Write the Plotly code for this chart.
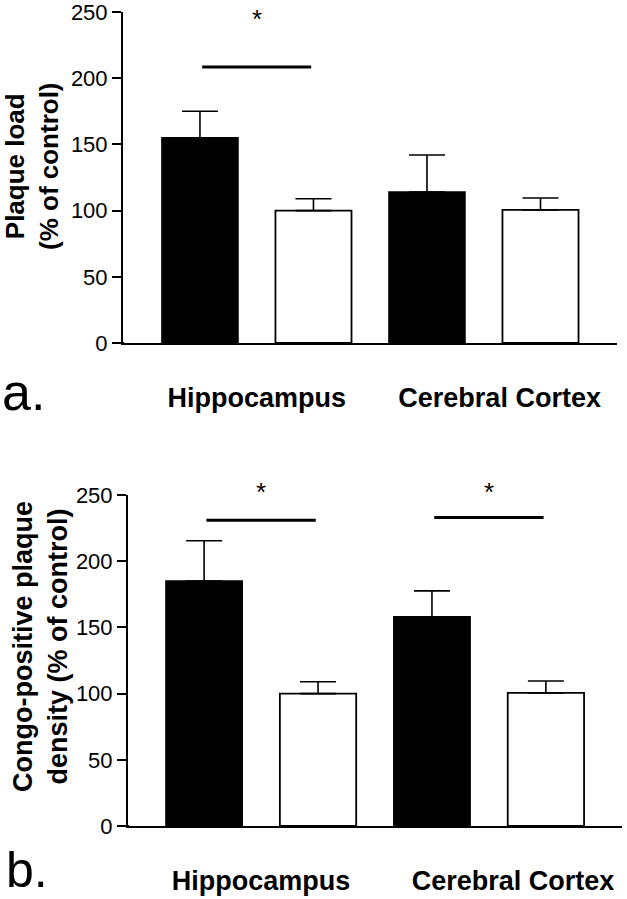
import plotly.graph_objects as go

# ---------------- data ----------------
categories = ["Hippocampus", "Cerebral Cortex"]

# panel a: plaque load (% of control)
load_treated = [155, 114]
load_treated_err = [20, 28]
load_control = [100, 100.5]
load_control_err = [9, 9]
load_sig_y = [208.5]          # significance bar heights (Hippocampus only)
load_star_y = [245]
load_sig_cat = [0]

# panel b: Congo-positive plaque density (% of control)
congo_treated = [185, 158]
congo_treated_err = [30.5, 19.6]
congo_control = [100, 100.5]
congo_control_err = [9, 9]
congo_sig_y = [231, 233]
congo_star_y = [252, 252]
congo_sig_cat = [0, 1]

yticks = [0, 50, 100, 150, 200, 250]
YMAX = 250

# ---------------- layout helpers ----------------
W, H = 627, 899
def px(x):
    return x / W
def py(y):
    return 1 - y / H

FONT = "Arial, Liberation Sans, Helvetica, sans-serif"
xcat = list(range(len(categories)))

fig = go.Figure()

def add_bars(xa, ya, treated, terr, control, cerr):
    fig.add_trace(go.Bar(
        x=xcat, y=treated, xaxis=xa, yaxis=ya, showlegend=False,
        marker=dict(color="black", line=dict(color="black", width=1.5)),
        error_y=dict(type="data", symmetric=False, array=terr,
                     arrayminus=[0] * len(terr), color="black",
                     thickness=1.6, width=18),
    ))
    fig.add_trace(go.Bar(
        x=xcat, y=control, xaxis=xa, yaxis=ya, showlegend=False,
        marker=dict(color="white", line=dict(color="black", width=1.8)),
        error_y=dict(type="data", symmetric=False, array=cerr,
                     arrayminus=[0] * len(cerr), color="black",
                     thickness=1.6, width=18),
    ))

add_bars("x", "y", load_treated, load_treated_err, load_control, load_control_err)
add_bars("x2", "y2", congo_treated, congo_treated_err, congo_control, congo_control_err)

xaxis_common = dict(
    showline=True, linecolor="black", linewidth=2, ticks="",
    showgrid=False, zeroline=False, tickmode="array", automargin=False,
    ticktext=categories, ticklabeloverflow="allow",
    tickfont=dict(family=FONT, size=27, color="black", weight="bold"),
    ticklabelstandoff=30,
)
yaxis_common = dict(
    showline=True, linecolor="black", linewidth=2, ticks="outside",
    ticklen=9, tickwidth=2, tickcolor="black", showgrid=False, automargin=False,
    zeroline=False, range=[0, YMAX], tickvals=yticks, ticklabeloverflow="allow",
    tickfont=dict(family=FONT, size=22, color="black"),
)

fig.update_layout(
    width=W, height=H, margin=dict(l=0, r=0, t=0, b=0, autoexpand=False),
    paper_bgcolor="white", plot_bgcolor="white",
    barmode="group", bargap=0.0, bargroupgap=0.33,
    xaxis=dict(xaxis_common, domain=[px(123), px(617)], range=[-0.589, 1.587],
               tickvals=[0.0, 1.07], anchor="y"),
    yaxis=dict(yaxis_common, domain=[py(343), py(12)], anchor="x"),
    xaxis2=dict(xaxis_common, domain=[px(128), px(622)], range=[-0.584, 1.584],
                tickvals=[0.0, 1.106], anchor="y2"),
    yaxis2=dict(yaxis_common, domain=[py(826), py(495)], anchor="x2"),
)

shapes = []
annotations = []
# baseline extension to the left of the y axis
shapes.append(dict(type="line", xref="paper", yref="y", x0=px(114), x1=px(124),
                   y0=0, y1=0, line=dict(color="black", width=2)))
shapes.append(dict(type="line", xref="paper", yref="y2", x0=px(119), x1=px(129),
                   y0=0, y1=0, line=dict(color="black", width=2)))

def add_sig(xa, ya, cats, ys, stars):
    for c, yv, sv in zip(cats, ys, stars):
        shapes.append(dict(type="line", xref=xa, yref=ya, x0=c - 0.24, x1=c + 0.24,
                           y0=yv, y1=yv, line=dict(color="black", width=3)))
        annotations.append(dict(xref=xa, yref=ya + " domain", x=c, y=sv / YMAX, text="*",
                                showarrow=False, yanchor="middle",
                                font=dict(family=FONT, size=26, color="black")))

add_sig("x", "y", load_sig_cat, load_sig_y, load_star_y)
add_sig("x2", "y2", congo_sig_cat, congo_sig_y, congo_star_y)

# y axis titles
annotations.append(dict(xref="paper", yref="paper", x=px(32), y=py(166),
                        text="Plaque load<br>(% of control)", textangle=-90,
                        showarrow=False, xanchor="center", yanchor="middle",
                        font=dict(family=FONT, size=26, color="black", weight="bold")))
annotations.append(dict(xref="paper", yref="paper", x=px(40), y=py(647),
                        text="Congo-positive plaque<br>density (% of control)", textangle=-90,
                        showarrow=False, xanchor="center", yanchor="middle",
                        font=dict(family=FONT, size=27, color="black", weight="bold")))
# panel letters
annotations.append(dict(xref="paper", yref="paper", x=px(0), y=py(392), text="a.",
                        showarrow=False, xanchor="left", yanchor="middle",
                        font=dict(family=FONT, size=52, color="black")))
annotations.append(dict(xref="paper", yref="paper", x=px(4), y=py(870), text="b.",
                        showarrow=False, xanchor="left", yanchor="middle",
                        font=dict(family=FONT, size=50, color="black")))

fig.update_layout(shapes=shapes, annotations=annotations)
fig.write_html("out.html", config={"displayModeBar": False},
               post_script="document.body.style.margin='0';document.body.style.overflow='hidden';")
